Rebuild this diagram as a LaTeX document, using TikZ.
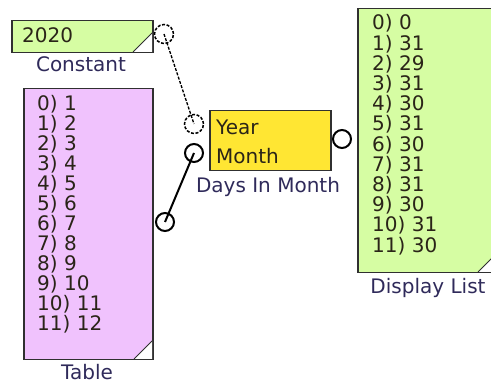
\documentclass[tikz,border=0pt]{standalone}
\usepackage{fontspec}
\setmainfont{DejaVu Sans}
\definecolor{cgreen}{HTML}{D6FDA3}
\definecolor{cpink}{HTML}{F0C2FD}
\definecolor{cyellow}{HTML}{FFE633}
\definecolor{cborder}{HTML}{303030}
\definecolor{clabel}{HTML}{2F2A5A}
\definecolor{ctext}{HTML}{2A2418}
\tikzset{
  blockbox/.style={draw=cborder, line width=1.5pt, anchor=north west, inner sep=0pt},
  txt/.style={anchor=base west, inner sep=0pt, text=ctext, font=\fontsize{20}{20}\selectfont},
  lbl/.style={anchor=base, inner sep=0pt, text=clabel, font=\fontsize{20}{20}\selectfont},
  port/.style={circle, draw=black, fill=white, line width=2pt, minimum size=18pt, inner sep=0pt},
  dport/.style={circle, draw=black, fill=white, line width=1.5pt, dash pattern=on 3pt off 1.6pt, minimum size=19pt, inner sep=0pt},
  wire/.style={draw=black, line width=2pt},
  dwire/.style={draw=black, line width=1.3pt, dash pattern=on 3pt off 1.5pt},
}
\begin{document}
\begin{tikzpicture}[x=1pt, y=-1pt]
\useasboundingbox (0,0) rectangle (491,385);
\clip (0,0) rectangle (491,385);
% Constant
\node[blockbox, fill=cgreen, minimum width=141pt, minimum height=32pt] (const) at (11,20) {};
\fill[white] (152,33) -- (152,52) -- (133,52) -- cycle;
\draw[cborder, line width=1pt] (152,33) -- (133,52);
\node[txt] (ctxt) at (22,43) {2020};
\node[lbl] (clbl) at (81,72) {Constant};
% Table
\node[blockbox, fill=cpink, minimum width=129pt, minimum height=271pt] (table) at (23,88) {};
\fill[white] (152,341) -- (152,359) -- (134,359) -- cycle;
\draw[cborder, line width=1pt] (152,341) -- (134,359);
\foreach \i/\v in {0/1,1/2,2/3,3/4,4/5,5/6,6/7,7/8,8/9,9/10,10/11,11/12}
  \node[txt] (t\i) at (37,111+20*\i) {\i) \v};
\node[lbl] (tlbl) at (87,380) {Table};
% Days In Month
\node[blockbox, fill=cyellow, minimum width=121pt, minimum height=60pt] (days) at (209,110) {};
\node[txt] (year) at (216,135) {Year};
\node[txt] (month) at (216,164) {Month};
\node[lbl] (dlbl) at (268,193) {Days In Month};
% Display List
\node[blockbox, fill=cgreen, minimum width=145pt, minimum height=264pt] (disp) at (357,8) {};
\fill[white] (497,253) -- (497,272) -- (478,272) -- cycle;
\draw[cborder, line width=1pt] (497,253) -- (478,272);
\foreach \i/\v in {0/0,1/31,2/29,3/31,4/30,5/31,6/30,7/31,8/31,9/30,10/31,11/30}
  \node[txt] (d\i) at (372,30+20.2*\i) {\i) \v};
\node[lbl] (plbl) at (428,294) {Display List};
% ports
\node[dport] (cout) at (164,34) {};
\node[dport] (yin) at (194,124) {};
\node[port] (min) at (194,153) {};
\node[port] (tout) at (165,222) {};
\node[port] (dout) at (342,139) {};
% wires
\draw[dwire] (cout.center) -- (yin.center);
\draw[wire] (tout.center) -- (min.center);
\end{tikzpicture}
\end{document}
